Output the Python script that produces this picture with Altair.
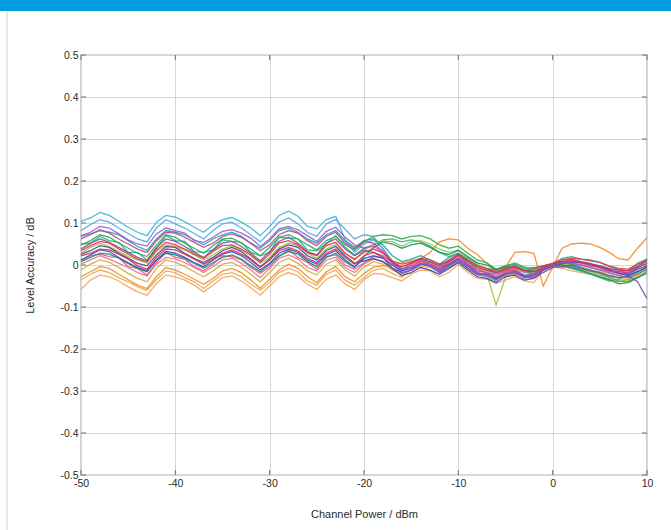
import altair as alt
import pandas as pd

# x positions (dBm)
CHANNEL_POWER_DBM = [-50, -49, -48, -47, -46, -45, -44, -43, -42, -41,
                     -40, -39, -38, -37, -36, -35, -34, -33, -32, -31,
                     -30, -29, -28, -27, -26, -25, -24, -23, -22, -21,
                     -20, -19, -18, -17, -16,
                     -15, -14, -13, -12, -11, -10, -9, -8, -7, -6,
                     -5, -4, -3, -2, -1, 0, 1, 2, 3, 4,
                     5, 6, 7, 8, 9, 10]

X_TICKS = [-50, -40, -30, -20, -10, 0, 10]
Y_TICKS = [-0.5, -0.4, -0.3, -0.2, -0.1, 0, 0.1, 0.2, 0.3, 0.4, 0.5]

# level accuracy of each measured unit, in milli-dB
LIGHT_ORANGE = [-58, -36, -24, -28, -38, -52, -64, -72, -44, -24, -28, -36, -48, -64, -48, -30, -26, -38, -54, -72,
                -50, -28, -18, -26, -46, -58, -34, -24, -45, -58, -35, -20, -22, -30, -38,
                -22, -12, -14, -28, -18, 2, -18, -32, -34, -44, -36, -28, -38, -42, -12, -4, -8, -14, -18, -22,
                -28, -34, -40, -38, -28, -15]
TAN = [-35, -22, -12, -18, -30, -40, -52, -60, -35, -14, -18, -30, -40, -56, -38, -22, -18, -28, -46, -60,
       -42, -18, -8, -16, -38, -48, -22, -12, -36, -48, -30, -12, -8, -20, -30,
       -10, 0, 8, -12, -4, 12, -6, -24, -26, -36, -26, -20, -28, -30, -10, -2, -4, -8, -12, -16,
       -24, -28, -32, -36, -24, -8]
ORANGE = [-28, -16, -4, -8, -22, -35, -48, -56, -28, -6, -12, -22, -34, -46, -32, -14, -8, -18, -36, -55,
          -34, -12, 2, -8, -28, -42, -16, -4, -28, -40, -20, -5, -2, 0, 5,
          10, 15, 30, 55, 62, 60, 40, 25, 5, -10, -5, 30, 32, 28, -50, -5, 40, 50, 52, 50,
          42, 30, 15, 12, 40, 65]
GOLD = [-12, 2, 12, 6, -6, -20, -32, -40, -8, 12, 6, -4, -16, -28, -14, 2, 6, -6, -22, -40,
        -18, 6, 16, 4, -14, -24, 2, 12, -12, -26, -5, 8, 2, -12, -22,
        -12, -2, -6, -16, -4, 8, -6, -18, -22, -30, -26, -22, -28, -26, -10, -2, -6, -4, -8, -12,
        -16, -20, -26, -32, -22, -8]
PINK = [2, 12, 22, 14, 4, -6, -18, -26, 2, 18, 14, 6, -6, -18, -4, 12, 16, 4, -12, -30,
        -8, 16, 24, 14, -6, -14, 12, 18, -6, -18, 2, 14, 8, -6, -16,
        2, 10, 6, -4, 6, 18, 4, -12, -16, -24, -16, -8, -18, -20, -10, 0, 4, 6, 4, -2,
        -4, -10, -14, -18, -8, 6]
ROSE = [10, 22, 26, 20, 18, -4, -8, -24, 6, 30, 18, 14, -4, -14, 2, 22, 20, 12, -6, -20,
        -4, 20, 36, 18, 6, -10, 20, 24, 0, -10, 5, 20, 18, 0, -12,
        0, 12, 2, -8, 2, 14, 0, -8, -20, -22, -14, -12, -16, -22, -8, 0, 6, 4, 0, -6,
        -10, -16, -18, -20, -4, 15]
CYAN = [104, 112, 125, 118, 104, 90, 78, 70, 102, 118, 114, 103, 90, 78, 96, 108, 113, 102, 88, 70,
        92, 118, 128, 116, 92, 86, 108, 116, 60, 30, 50, 60, 40, 10, -15,
        8, 14, 6, -2, 12, 22, 8, -8, -12, -22, -8, -4, -18, -12, -4, 2, 12, 14, 8, 4,
        -2, -10, -15, -12, -2, 8]
LIGHT_BLUE = [82, 96, 108, 102, 88, 75, 62, 55, 88, 108, 98, 88, 75, 62, 82, 98, 102, 88, 72, 55,
              78, 102, 112, 98, 78, 68, 98, 108, 85, 62, 72, 68, 38, 5, -20,
              -12, 2, -3, -18, -8, 8, -2, -22, -28, -38, -22, -18, -32, -28, -8, -3, 0, -4, -8, -12,
              -18, -25, -30, -28, -16, -12]
TEAL = [68, 74, 82, 78, 72, 58, 44, 35, 62, 82, 78, 72, 60, 48, 62, 72, 78, 68, 52, 40,
        58, 82, 88, 78, 62, 52, 72, 82, 58, 42, 58, 62, 48, 22, 8,
        14, 22, 12, 2, 18, 28, 12, -2, -8, -12, -2, 2, -8, -6, -2, 3, 16, 20, 14, 12,
        6, -4, -10, -14, 4, 14]
SEA_GREEN = [50, 52, 68, 58, 54, 30, 30, 12, 40, 70, 58, 56, 32, 30, 36, 60, 56, 54, 30, 22,
             30, 66, 64, 62, 36, 34, 50, 70, 42, 24, 40, 48, 60, 62, 55,
             60, 55, 45, 30, 20, 28, 15, 0, -8, -18, -10, -4, -15, -20, -6, 0, -2, -8, -15, -22,
             -30, -38, -35, -25, -18, -5]
YELLOW_GREEN = [28, 42, 52, 44, 32, 20, 12, 4, 32, 48, 44, 36, 24, 12, 24, 38, 46, 36, 22, 4,
                18, 42, 52, 46, 28, 16, 38, 48, 28, 12, 35, 50, 58, 55, 45,
                55, 58, 50, 38, 30, 35, 18, 5, -20, -95, -30, -12, -15, -12, -5, 0, 2, 0, -8, -15,
                -25, -35, -40, -35, -20, -5]
GREEN = [48, 58, 72, 66, 52, 40, 28, 20, 48, 72, 66, 52, 40, 28, 46, 62, 64, 52, 38, 22,
         42, 66, 72, 62, 48, 36, 58, 68, 48, 35, 55, 68, 72, 70, 62,
         68, 70, 62, 48, 40, 45, 28, 12, 5, -10, -2, 5, -5, -8, -2, 2, 5, 2, -5, -12,
         -20, -30, -38, -40, -30, -15]
DARK_GREEN = [8, 18, 28, 26, 16, 4, -8, -16, 12, 28, 24, 16, 4, -8, 6, 18, 24, 14, -2, -16,
              2, 22, 32, 26, 8, -4, 18, 28, 8, -6, 20, 42, 55, 50, 40,
              48, 52, 42, 30, 25, 35, 20, 5, 0, -12, -5, -2, -12, -15, -8, 0, 0, -5, -12, -20,
              -28, -35, -45, -42, -30, -20]
NAVY = [26, 34, 46, 42, 28, 16, 4, -2, 24, 44, 42, 28, 16, 6, 18, 34, 42, 32, 14, -4,
        14, 38, 48, 42, 22, 12, 34, 44, 22, 4, 10, 15, 8, -8, -25,
        -18, -6, -12, -22, -8, 6, -12, -28, -32, -42, -28, -24, -36, -32, -12, -2, 5, 8, 6, 2,
        -5, -12, -20, -25, -15, -5]
BLUE = [12, 24, 36, 32, 18, 5, -6, -14, 12, 32, 28, 18, 6, -4, 12, 26, 32, 22, 6, -12,
        4, 28, 38, 30, 12, 2, 24, 34, 12, -4, 15, 22, 16, 0, -14,
        -8, 4, -2, -12, 2, 16, -2, -18, -24, -34, -22, -14, -26, -24, -12, -2, 4, 8, 6, 2,
        -4, -12, -20, -22, -10, -2]
VIOLET = [70, 78, 92, 88, 74, 60, 50, 45, 74, 88, 82, 76, 58, 54, 66, 80, 84, 76, 64, 44,
          62, 86, 92, 84, 70, 56, 80, 90, 66, 48, 40, 45, 30, 5, -10,
          -6, 4, 0, -14, 0, 14, 0, -18, -26, -30, -20, -16, -30, -26, -10, -1, 6, 4, 0, -6,
          -12, -18, -24, -30, -22, -10]
PURPLE = [38, 52, 62, 54, 42, 30, 18, 10, 42, 62, 56, 44, 30, 18, 36, 52, 56, 44, 28, 10,
          32, 56, 66, 52, 32, 24, 52, 62, 38, 22, 35, 30, 18, -8, -18,
          -12, 2, -2, -18, -2, 12, -8, -22, -22, -32, -22, -18, -28, -32, -18, -6, -4, 0, -8, -14,
          -18, -25, -30, -26, -40, -80]
MAGENTA = [62, 72, 84, 76, 62, 50, 38, 30, 58, 78, 76, 66, 54, 42, 52, 68, 74, 66, 52, 34,
           48, 72, 82, 76, 58, 46, 68, 78, 52, 38, 56, 52, 32, 8, -8,
           -4, 8, 2, -8, 8, 24, 2, -14, -18, -28, -18, -12, -24, -22, -8, 2, 8, 10, 6, -2,
           -6, -14, -16, -18, -6, 4]
CRIMSON = [22, 28, 38, 36, 26, 14, -2, -10, 18, 38, 36, 26, 14, 2, 14, 28, 36, 26, 12, -6,
           12, 34, 42, 34, 16, 6, 28, 38, 18, 2, 22, 30, 22, 6, -4,
           4, 14, 8, -2, 12, 26, 8, -6, -12, -18, -12, -6, -14, -16, -6, 4, 8, 12, 8, 2,
           -2, -8, -12, -14, -4, 12]
RED = [34, 46, 56, 52, 38, 26, 14, 8, 36, 54, 48, 38, 26, 16, 32, 46, 48, 38, 24, 6,
       26, 52, 58, 48, 30, 22, 46, 54, 28, 14, 30, 38, 28, 10, 2,
       6, 16, 12, 2, 8, 22, 12, -2, -8, -16, -8, -2, -12, -10, -2, 4, 12, 16, 14, 10,
       6, -2, -8, -10, 2, 10]

SERIES = [
    ("light orange", "#f5a35e", LIGHT_ORANGE),
    ("tan", "#e8a84c", TAN),
    ("orange", "#f28a24", ORANGE),
    ("gold", "#cdb02e", GOLD),
    ("pink", "#e96fa4", PINK),
    ("rose", "#ee5a7a", ROSE),
    ("cyan", "#33b5e2", CYAN),
    ("light blue", "#5aa2dc", LIGHT_BLUE),
    ("teal", "#18a89a", TEAL),
    ("sea green", "#25b38a", SEA_GREEN),
    ("yellow green", "#92c83d", YELLOW_GREEN),
    ("green", "#2eaf47", GREEN),
    ("dark green", "#1e8f64", DARK_GREEN),
    ("navy", "#4a3d9a", NAVY),
    ("blue", "#3355c0", BLUE),
    ("violet", "#9b59d0", VIOLET),
    ("purple", "#7a4cae", PURPLE),
    ("magenta", "#c43d9c", MAGENTA),
    ("crimson", "#d62a5e", CRIMSON),
    ("red", "#e53b2c", RED),
]

rows = []
for name, _, vals in SERIES:
    assert len(vals) == len(CHANNEL_POWER_DBM), name
    for p, v in zip(CHANNEL_POWER_DBM, vals):
        rows.append({"series": name, "power": p, "level": v / 1000.0})
df = pd.DataFrame(rows)

FONT = "Liberation Sans"
TXT = "#2a2a2a"
FRAME = "#6e6e6e"

xscale = alt.Scale(domain=[-50, 10], nice=False, zero=False)
yscale = alt.Scale(domain=[-0.5, 0.5], nice=False, zero=False)

xaxis = alt.Axis(values=X_TICKS, labelExpr="'' + datum.value", title="Channel Power / dBm",
                 grid=True, ticks=False, tickSize=0, domain=False, labelPadding=3,
                 labelFlush=False, titleY=33)
yaxis = alt.Axis(values=Y_TICKS, labelExpr="'' + datum.value", title="Level Accuracy / dB",
                 grid=True, ticks=False, tickSize=0, domain=False, labelPadding=3,
                 labelFlush=False, titleX=-46, titleY=210)

lines = alt.Chart(df).mark_line(strokeWidth=1.3, opacity=0.9, clip=True).encode(
    x=alt.X("power:Q", scale=xscale, axis=xaxis),
    y=alt.Y("level:Q", scale=yscale, axis=yaxis),
    color=alt.Color("series:N",
                    scale=alt.Scale(domain=[s[0] for s in SERIES], range=[s[1] for s in SERIES]),
                    legend=None),
    detail="series:N",
)

xt = pd.DataFrame({"power": X_TICKS})
yt = pd.DataFrame({"level": Y_TICKS})

tick_bottom = alt.Chart(xt).mark_rule(color=FRAME, strokeWidth=1).encode(
    x=alt.X("power:Q", scale=xscale, axis=xaxis), y=alt.value(420), y2=alt.value(415))
tick_top = alt.Chart(xt).mark_rule(color=FRAME, strokeWidth=1).encode(
    x=alt.X("power:Q", scale=xscale, axis=xaxis), y=alt.value(0), y2=alt.value(5))
tick_left = alt.Chart(yt).mark_rule(color=FRAME, strokeWidth=1).encode(
    y=alt.Y("level:Q", scale=yscale, axis=yaxis), x=alt.value(0), x2=alt.value(5))
tick_right = alt.Chart(yt).mark_rule(color=FRAME, strokeWidth=1).encode(
    y=alt.Y("level:Q", scale=yscale, axis=yaxis), x=alt.value(561), x2=alt.value(566))

one = pd.DataFrame({"k": [0]})
header = alt.Chart(one).mark_rect(color="#009fe3").encode(
    x=alt.value(-81), x2=alt.value(600), y=alt.value(-55), y2=alt.value(-44))
border = alt.Chart(one).mark_rule(color="#d3d7dc", strokeWidth=1.2).encode(
    x=alt.value(-74), y=alt.value(-43), y2=alt.value(480))

chart = alt.layer(header, border, lines, tick_bottom, tick_top, tick_left, tick_right).properties(
    width=566, height=420,
    padding={"left": 81, "top": 55, "right": 24, "bottom": 55},
    autosize=alt.AutoSizeParams(type="none"),
    background="white",
).configure_view(
    stroke=FRAME, strokeWidth=1.2
).configure_axis(
    labelFont=FONT, labelFontSize=10.5, labelColor=TXT,
    titleFont=FONT, titleFontSize=11, titleColor=TXT, titleFontWeight="normal",
    gridColor="#d6d6d6", gridWidth=1,
)

chart.save("out.html", embed_options={"renderer": "svg", "actions": False})
